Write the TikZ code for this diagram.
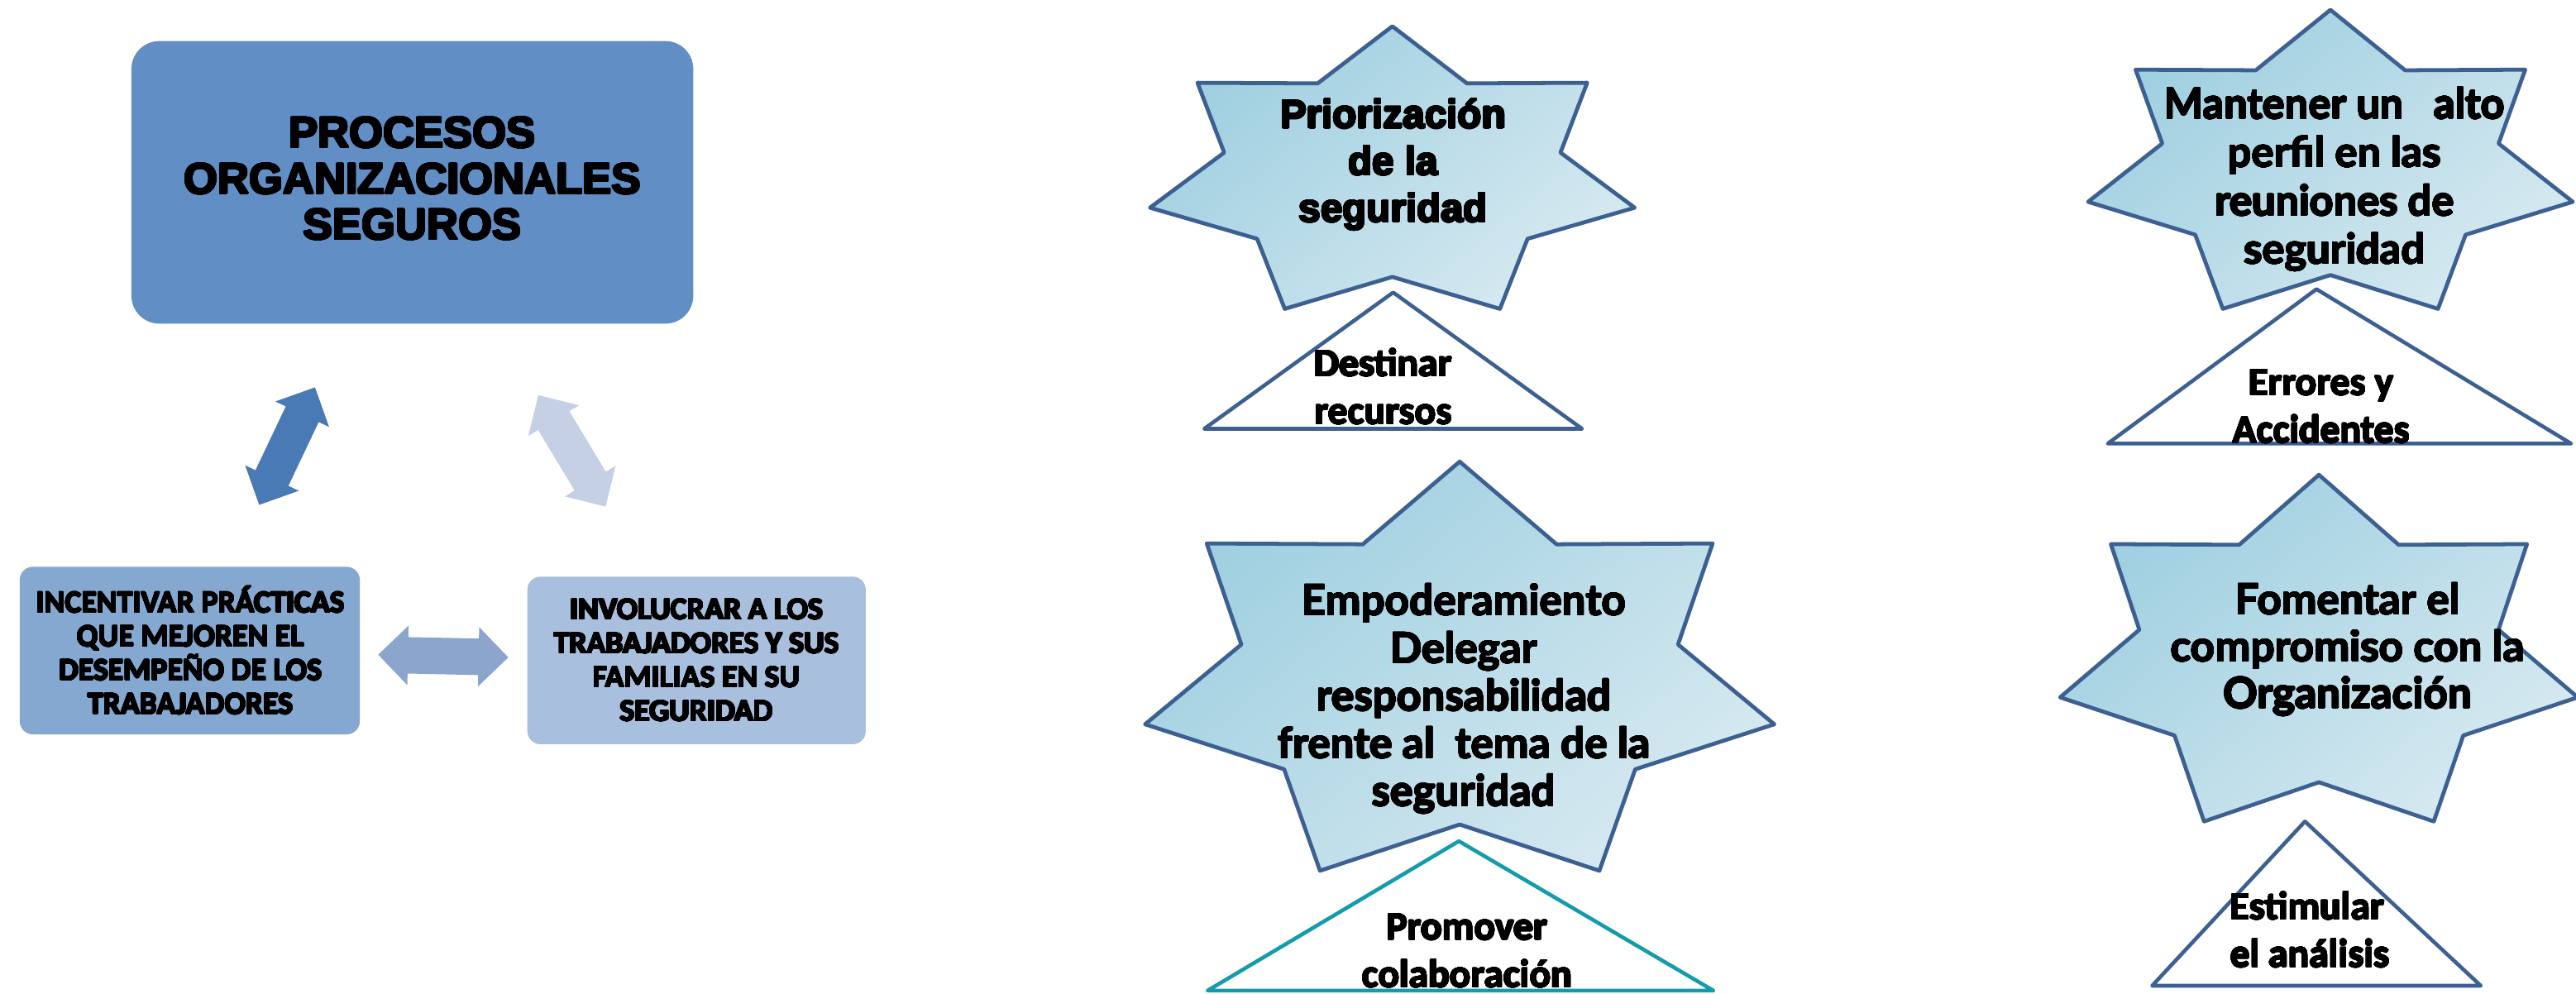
\documentclass[tikz,border=0pt]{standalone}
\usepackage{fontspec}
\usepackage{contour}
\contournumber{24}
\setmainfont{Liberation Sans}
\newfontfamily\arialfont{Liberation Sans}
\newfontfamily\calfont{Carlito}
\newfontfamily\gillfont{Lato}
\newcommand\hv[1]{\contourlength{0.55pt}\contour{black}{#1}}
\newcommand\md[1]{\contourlength{0.35pt}\contour{black}{#1}}
\definecolor{mainblue}{RGB}{97,142,196}
\definecolor{leftblue}{RGB}{133,168,209}
\definecolor{rightblue}{RGB}{168,192,222}
\definecolor{arrowA}{RGB}{74,122,181}
\definecolor{arrowB}{RGB}{197,208,229}
\definecolor{arrowC}{RGB}{139,165,204}
\definecolor{starline}{RGB}{61,96,146}
\definecolor{starA}{RGB}{158,207,224}
\definecolor{starB}{RGB}{214,233,240}
\definecolor{teal}{RGB}{20,155,172}
\newcommand\sevenstar[5]{%
  \path[starbox] ({#2+0.5*#4},{#3})
    -- ({#2+0.654*#4},{#3+0.202*#5}) -- ({#2+0.902*#4},{#3+0.2*#5})
    -- ({#2+0.847*#4},{#3+0.447*#5}) -- ({#2+#4},{#3+0.642*#5})
    -- ({#2+0.779*#4},{#3+0.752*#5}) -- ({#2+0.722*#4},{#3+#5})
    -- ({#2+0.5*#4},{#3+0.887*#5}) -- ({#2+0.278*#4},{#3+#5})
    -- ({#2+0.221*#4},{#3+0.752*#5}) -- ({#2},{#3+0.642*#5})
    -- ({#2+0.153*#4},{#3+0.447*#5}) -- ({#2+0.098*#4},{#3+0.2*#5})
    -- ({#2+0.346*#4},{#3+0.202*#5}) -- cycle;
  \coordinate (#1) at ({#2+0.5*#4},{#3+0.5*#5});}
\newcommand\dblarrow[4]{%
  \fill[#1,shift={(#2,#3)},rotate=#4]
    (-39.6,0) -- (-21.5,18.1) -- (-21.5,11.1) -- (21.5,11.1) -- (21.5,18.1)
    -- (39.6,0) -- (21.5,-18.1) -- (21.5,-11.1) -- (-21.5,-11.1)
    -- (-21.5,-18.1) -- cycle;}
\begin{document}
\begin{tikzpicture}[x=1pt,y=-1pt,
  starbox/.style={draw=starline, line width=2.4pt, line join=round,
    top color=starA, bottom color=starB, shading angle=40},
  tribox/.style={draw=starline, line width=2.3pt, line join=round, fill=white},
  rbox/.style={rounded corners=#1, draw=none, inner sep=0pt, align=center},
  maintext/.style={font=\arialfont\bfseries\fontsize{26.5}{28}\selectfont, align=center},
  boxtext/.style={font=\calfont\bfseries\fontsize{19}{20.6}\selectfont, align=center},
  startext/.style={font=\arialfont\bfseries\fontsize{24}{28.5}\selectfont, align=center},
  gilltext/.style={font=\gillfont\bfseries\fontsize{25.8}{29}\selectfont, align=center},
  tritext/.style={font=\calfont\bfseries\fontsize{24}{29}\selectfont, align=center}]
\useasboundingbox (0,0) rectangle (1568,605);
\fill[white] (0,0) rectangle (1568,605);

% left part: boxes
\node[rbox=17pt, fill=mainblue, minimum width=342pt, minimum height=172pt] (proc) at (251,111) {};
\node[maintext] (proctext) at (251,109) {\hv{PROCESOS}\\\hv{ORGANIZACIONALES}\\\hv{SEGUROS}};
\node[rbox=8pt, fill=leftblue, minimum width=207pt, minimum height=102pt] (incent) at (115.5,396) {};
\node[boxtext] (incenttext) at (116,396) {\md{INCENTIVAR PRÁCTICAS}\\\md{QUE MEJOREN EL}\\\md{DESEMPEÑO DE LOS}\\\md{TRABAJADORES}};
\node[rbox=8pt, fill=rightblue, minimum width=206pt, minimum height=102pt] (invol) at (424,402) {};
\node[boxtext] (involtext) at (424,402) {\md{INVOLUCRAR A LOS}\\\md{TRABAJADORES Y SUS}\\\md{FAMILIAS EN SU}\\\md{SEGURIDAD}};

% block arrows
\dblarrow{arrowA}{174.75}{271.55}{64.6}
\dblarrow{arrowB}{348.15}{274.45}{121.1}
\dblarrow{arrowC}{269.8}{399.35}{-1.2}

% star 1
\sevenstar{s1}{700}{16}{295}{172}
\node[startext] (s1text) at (848,100.5) {\hv{Priorización}\\\hv{de la}\\\hv{seguridad}};
\coordinate (t1a) at (848,178);
\coordinate (t1b) at (963,261);
\coordinate (t1c) at (733,261);
\draw[tribox] (t1a) -- (t1b) -- (t1c) -- cycle;
\node[tritext] (t1text) at (842,235.5) {\md{Destinar}\\\md{recursos}};

% star 2
\sevenstar{s2}{697}{281}{383}{249}
\node[gilltext] (s2text) at (891,425.5) {\md{Empoderamiento}\\\md{Delegar}\\\md{responsabilidad}\\\md{frente al\ \ tema de la}\\\md{seguridad}};
\coordinate (t2a) at (888,512);
\coordinate (t2b) at (1043,603);
\coordinate (t2c) at (735,603);
\draw[tribox, draw=teal] (t2a) -- (t2b) -- (t2c) -- cycle;
\node[tritext] (t2text) at (893,579) {\md{Promover}\\\md{colaboración}};

% star 3
\sevenstar{s3}{1271}{6}{295}{182}
\node[gilltext, font=\gillfont\bfseries\fontsize{25.4}{29.5}\selectfont] (s3text) at (1421,109.5) {\md{Mantener un\ \ \ alto}\\\md{perfil en las}\\\md{reuniones de}\\\md{seguridad}};
\coordinate (t3a) at (1410,176);
\coordinate (t3b) at (1565,270);
\coordinate (t3c) at (1283,270);
\draw[tribox] (t3a) -- (t3b) -- (t3c) -- cycle;
\node[tritext] (t3text) at (1413,247.5) {\md{Errores y}\\\md{Accidentes}};

% star 4
\sevenstar{s4}{1254}{289}{315}{211}
\node[gilltext, font=\gillfont\bfseries\fontsize{25.8}{28.5}\selectfont] (s4text) at (1429,395.5) {\md{Fomentar el}\\\md{compromiso con la}\\\md{Organización}};
\coordinate (t4a) at (1403,500);
\coordinate (t4b) at (1510,600);
\coordinate (t4c) at (1310,600);
\draw[tribox] (t4a) -- (t4b) -- (t4c) -- cycle;
\node[tritext, align=left] (t4text) at (1406,566) {\md{Estimular}\\\md{el análisis}};
\end{tikzpicture}
\end{document}
